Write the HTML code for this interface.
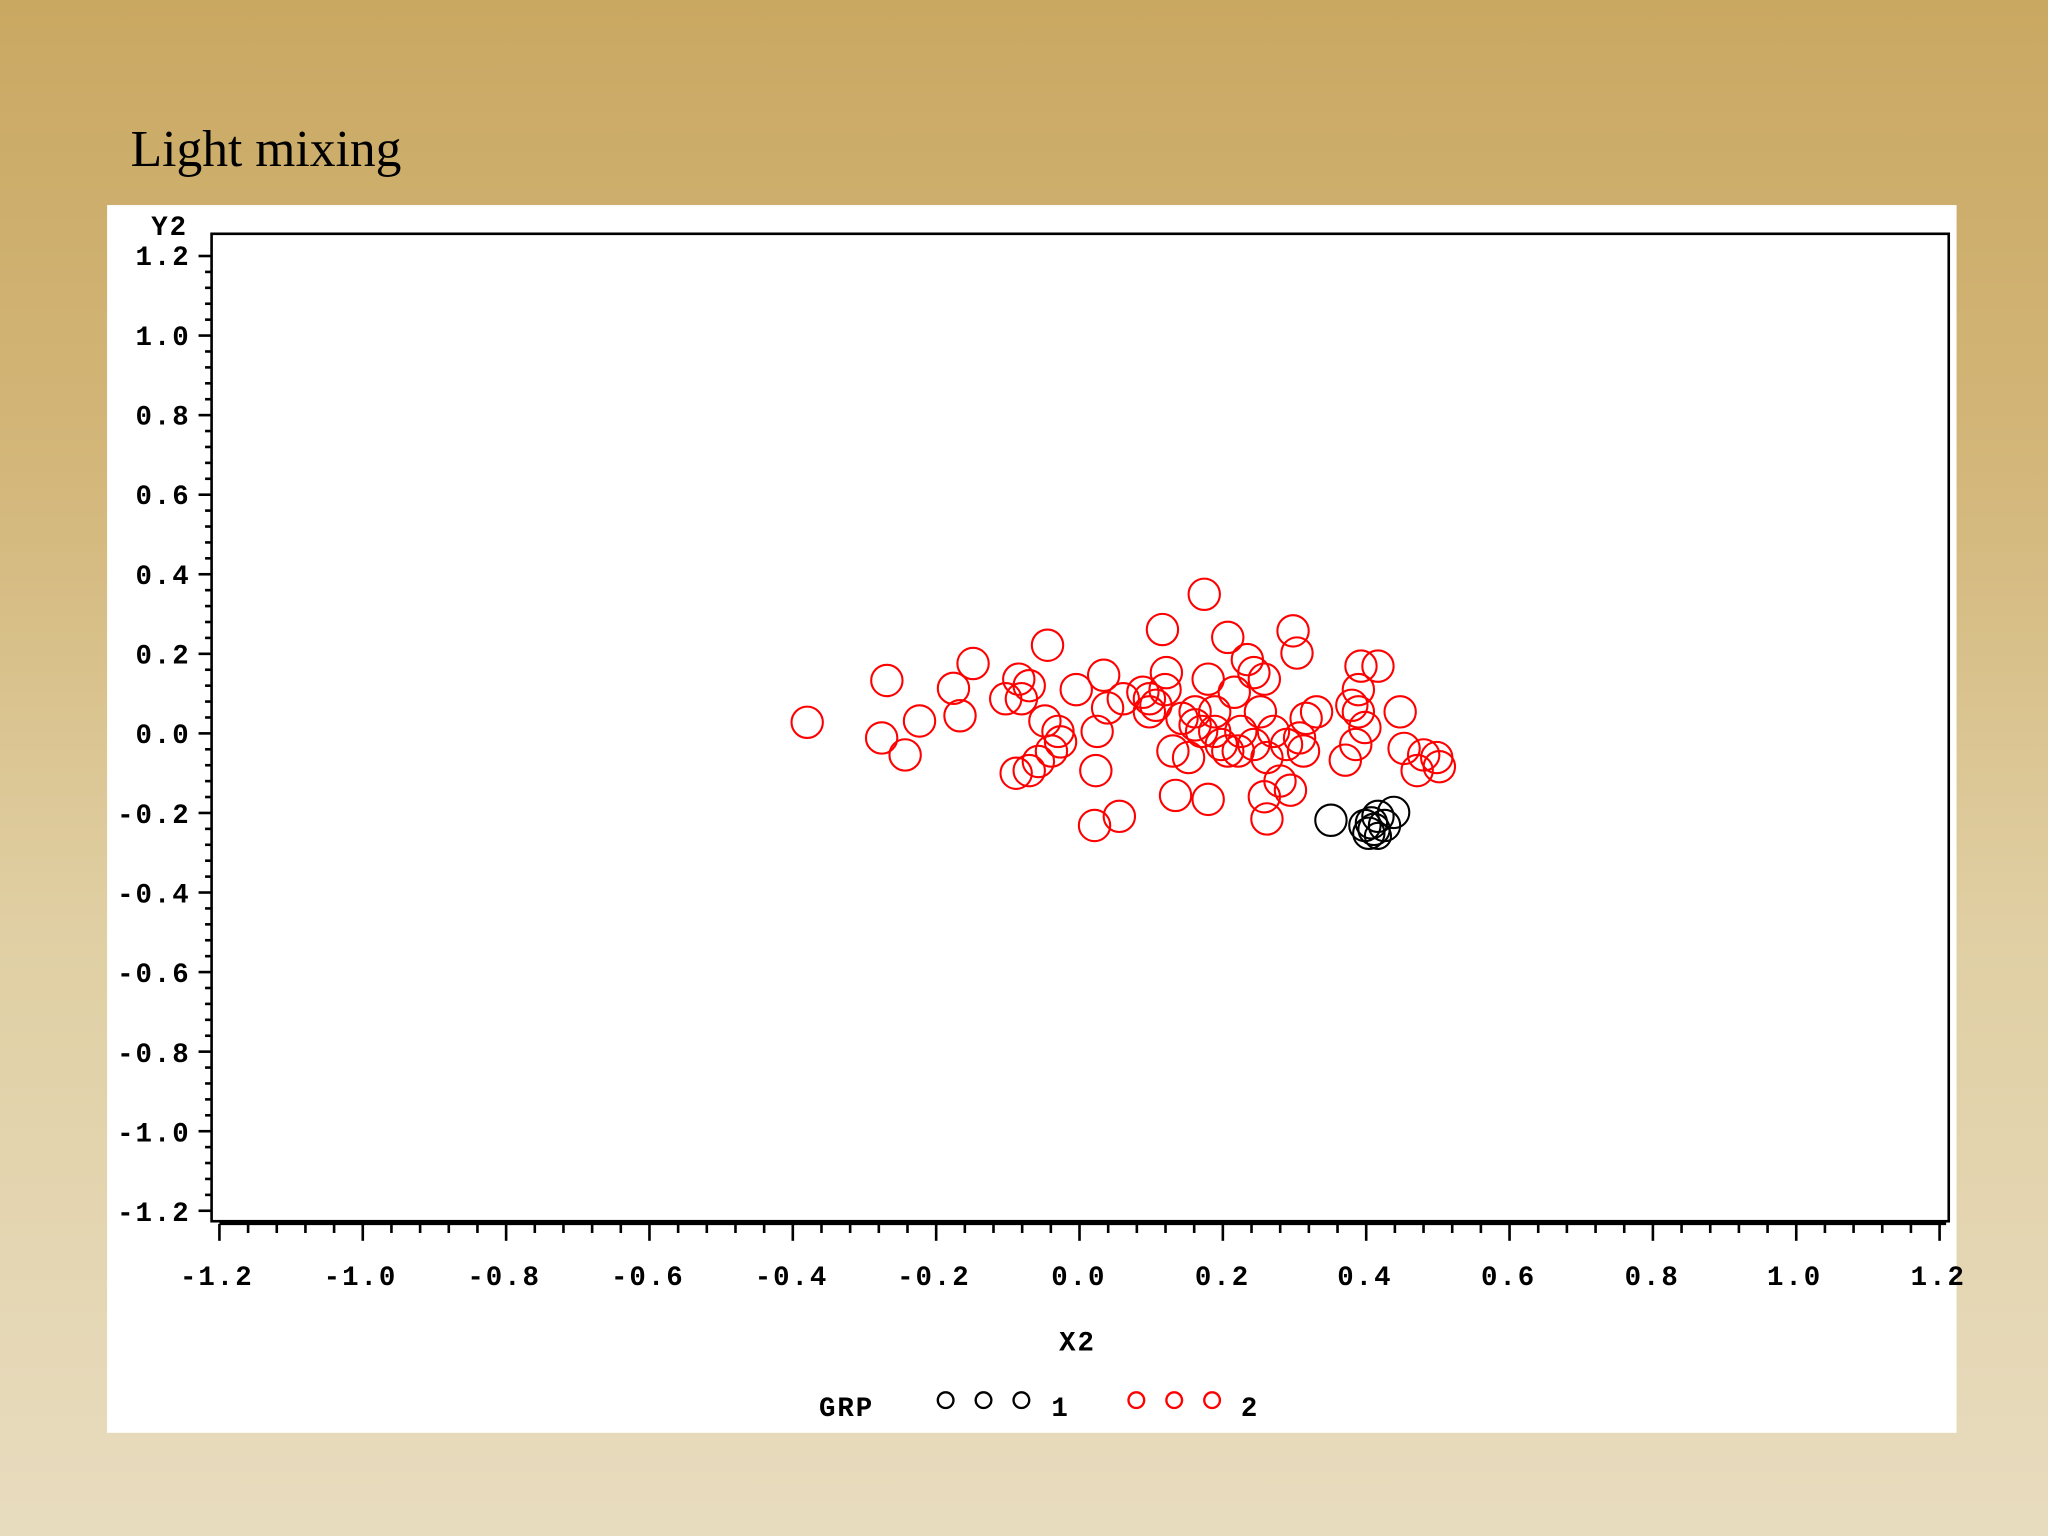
<!DOCTYPE html>
<html><head><meta charset="utf-8"><style>
html,body{margin:0;padding:0;width:2048px;height:1536px;overflow:hidden}
body{background:linear-gradient(to bottom,#c9a862 0%,#d3b679 30%,#e0cfa3 60%,#e8dcbf 100%)}
svg{display:block}
</style></head><body>
<svg width="2048" height="1536" viewBox="0 0 1568 1176" xmlns="http://www.w3.org/2000/svg">
<text x="100" y="127" font-family="Liberation Serif, serif" font-size="39.5" fill="#000">Light mixing</text>
<rect x="82" y="157" width="1416" height="940" fill="#fff"/>
<rect x="162" y="179" width="1330" height="756" fill="none" stroke="#000" stroke-width="2"/>
<g font-family="Liberation Mono, monospace" font-weight="bold" font-size="21" fill="#000" letter-spacing="1.5">
<text x="144" y="180" text-anchor="end">Y2</text>
<text x="146" y="203" text-anchor="end">1.2</text>
<text x="146" y="264" text-anchor="end">1.0</text>
<text x="146" y="325" text-anchor="end">0.8</text>
<text x="146" y="386" text-anchor="end">0.6</text>
<text x="146" y="447" text-anchor="end">0.4</text>
<text x="146" y="508" text-anchor="end">0.2</text>
<text x="146" y="569" text-anchor="end">0.0</text>
<text x="146" y="630" text-anchor="end">-0.2</text>
<text x="146" y="691" text-anchor="end">-0.4</text>
<text x="146" y="752" text-anchor="end">-0.6</text>
<text x="146" y="813" text-anchor="end">-0.8</text>
<text x="146" y="874" text-anchor="end">-1.0</text>
<text x="146" y="935" text-anchor="end">-1.2</text>
<text x="166" y="984" text-anchor="middle">-1.2</text>
<text x="276" y="984" text-anchor="middle">-1.0</text>
<text x="386" y="984" text-anchor="middle">-0.8</text>
<text x="496" y="984" text-anchor="middle">-0.6</text>
<text x="606" y="984" text-anchor="middle">-0.4</text>
<text x="715" y="984" text-anchor="middle">-0.2</text>
<text x="826" y="984" text-anchor="middle">0.0</text>
<text x="936" y="984" text-anchor="middle">0.2</text>
<text x="1045" y="984" text-anchor="middle">0.4</text>
<text x="1155" y="984" text-anchor="middle">0.6</text>
<text x="1265" y="984" text-anchor="middle">0.8</text>
<text x="1374" y="984" text-anchor="middle">1.0</text>
<text x="1484" y="984" text-anchor="middle">1.2</text>
<text x="825" y="1034" text-anchor="middle">X2</text>
<text x="627" y="1084">GRP</text>
<text x="805" y="1084">1</text>
<text x="950" y="1084">2</text>
</g>
<g id="ticks" stroke="#000" stroke-width="2">
<line x1="168" y1="937" x2="1490" y2="937"/>
</g>
<g fill="none" stroke="#f00" stroke-width="1.6">
<circle cx="618" cy="553" r="12"/><circle cx="679" cy="521" r="12"/><circle cx="675" cy="565" r="12"/><circle cx="693" cy="578" r="12"/><circle cx="704" cy="552" r="12"/><circle cx="730" cy="527" r="12"/><circle cx="735" cy="548" r="12"/><circle cx="745" cy="508" r="12"/><circle cx="780" cy="520" r="12"/><circle cx="788" cy="525" r="12"/><circle cx="782" cy="535" r="12"/><circle cx="800" cy="552" r="12"/><circle cx="802" cy="494" r="12"/><circle cx="778" cy="592" r="12"/><circle cx="788" cy="590" r="12"/><circle cx="795" cy="583" r="12"/><circle cx="805" cy="575" r="12"/><circle cx="812" cy="568" r="12"/><circle cx="824" cy="528" r="12"/><circle cx="845" cy="517" r="12"/><circle cx="840" cy="560" r="12"/><circle cx="848" cy="542" r="12"/><circle cx="839" cy="590" r="12"/><circle cx="838" cy="632" r="12"/><circle cx="857" cy="625" r="12"/><circle cx="860" cy="535" r="12"/><circle cx="875" cy="530" r="12"/><circle cx="880" cy="545" r="12"/><circle cx="890" cy="482" r="12"/><circle cx="893" cy="515" r="12"/><circle cx="885" cy="540" r="12"/><circle cx="898" cy="575" r="12"/><circle cx="900" cy="609" r="12"/><circle cx="910" cy="580" r="12"/><circle cx="915" cy="555" r="12"/><circle cx="922" cy="455" r="12"/><circle cx="925" cy="520" r="12"/><circle cx="925" cy="612" r="12"/><circle cx="930" cy="545" r="12"/><circle cx="935" cy="570" r="12"/><circle cx="940" cy="488" r="12"/><circle cx="945" cy="530" r="12"/><circle cx="948" cy="575" r="12"/><circle cx="955" cy="505" r="12"/><circle cx="960" cy="515" r="12"/><circle cx="965" cy="545" r="12"/><circle cx="968" cy="520" r="12"/><circle cx="970" cy="580" r="12"/><circle cx="968" cy="610" r="12"/><circle cx="970" cy="627" r="12"/><circle cx="975" cy="560" r="12"/><circle cx="980" cy="598" r="12"/><circle cx="988" cy="605" r="12"/><circle cx="990" cy="483" r="12"/><circle cx="993" cy="500" r="12"/><circle cx="995" cy="565" r="12"/><circle cx="1000" cy="550" r="12"/><circle cx="1008" cy="545" r="12"/><circle cx="1030" cy="582" r="12"/><circle cx="1035" cy="540" r="12"/><circle cx="1040" cy="528" r="12"/><circle cx="1045" cy="557" r="12"/><circle cx="1042" cy="510" r="12"/><circle cx="1055" cy="510" r="12"/><circle cx="1072" cy="545" r="12"/><circle cx="1075" cy="573" r="12"/><circle cx="1085" cy="590" r="12"/><circle cx="1090" cy="578" r="12"/><circle cx="1100" cy="580" r="12"/><circle cx="1102" cy="587" r="12"/><circle cx="920" cy="560" r="12"/><circle cx="915" cy="545" r="12"/><circle cx="905" cy="550" r="12"/><circle cx="950" cy="560" r="12"/><circle cx="960" cy="570" r="12"/><circle cx="940" cy="575" r="12"/><circle cx="930" cy="560" r="12"/><circle cx="985" cy="570" r="12"/><circle cx="998" cy="575" r="12"/><circle cx="892" cy="528" r="12"/><circle cx="880" cy="535" r="12"/><circle cx="770" cy="535" r="12"/><circle cx="810" cy="560" r="12"/><circle cx="1040" cy="545" r="12"/><circle cx="1038" cy="570" r="12"/>
</g>
<g fill="none" stroke="#000" stroke-width="1.6">
<circle cx="1019" cy="628" r="12"/><circle cx="1050" cy="630" r="12"/><circle cx="1055" cy="625" r="12"/><circle cx="1060" cy="632" r="12"/><circle cx="1067" cy="622" r="12"/><circle cx="1048" cy="638" r="12"/><circle cx="1052" cy="635" r="12"/><circle cx="1045" cy="632" r="12"/><circle cx="1055" cy="640" r="10"/>
</g>
<g fill="none" stroke-width="1.8">
<circle cx="724" cy="1072" r="6" stroke="#000"/><circle cx="753" cy="1072" r="6" stroke="#000"/><circle cx="782" cy="1072" r="6" stroke="#000"/>
<circle cx="870" cy="1072" r="6" stroke="#f00"/><circle cx="899" cy="1072" r="6" stroke="#f00"/><circle cx="928" cy="1072" r="6" stroke="#f00"/>
</g>
<script>
(function(){var g=document.getElementById('ticks'),ns='http://www.w3.org/2000/svg';
function L(a,b,c,d){var l=document.createElementNS(ns,'line');l.setAttribute('x1',a);l.setAttribute('y1',b);l.setAttribute('x2',c);l.setAttribute('y2',d);g.appendChild(l);}
for(var i=0;i<=60;i++){var y=196+i*(927-196)/60;var maj=i%5==0;L(maj?152:157,y,162,y);}
for(var j=0;j<=60;j++){var x=168+j*(1485-168)/60;var mj=j%5==0;L(x,937,x,mj?950:944);}
})();
</script>
</svg>
</body></html>
